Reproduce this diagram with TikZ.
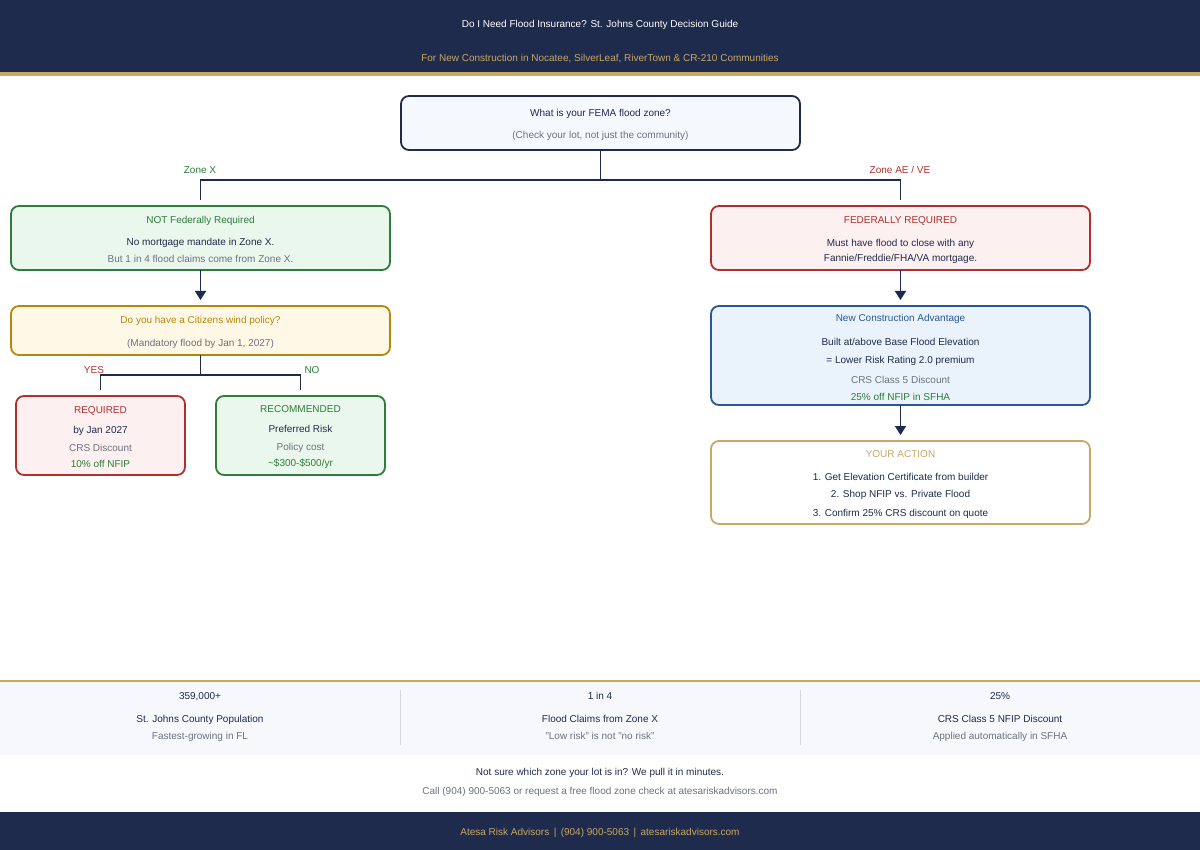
\documentclass[tikz,border=0pt]{standalone}
\usepackage{fontspec}
\setmainfont{Liberation Sans}
\usetikzlibrary{positioning, arrows.meta}
\definecolor{navy}{HTML}{1E2B4D}
\definecolor{gold}{HTML}{C8A862}
\definecolor{okgreen}{HTML}{2E7D3A}
\definecolor{okbg}{HTML}{EAF7EC}
\definecolor{alert}{HTML}{B0302F}
\definecolor{alertbg}{HTML}{FDF0F0}
\definecolor{amber}{HTML}{B8860B}
\definecolor{amberbg}{HTML}{FFF8E6}
\definecolor{mainblue}{HTML}{2B5797}
\definecolor{bluebg}{HTML}{EAF3FC}
\definecolor{mutedgray}{HTML}{6B7280}
\definecolor{qbg}{HTML}{F5F8FC}
\definecolor{statbg}{HTML}{F7F8FB}
\definecolor{divider}{HTML}{D3D7DE}
\newcommand\boxstrut{\rule{0pt}{11pt}}

\begin{document}
\begin{tikzpicture}[
  x=1pt, y=-1pt,
  every node/.style={font=\fontsize{10}{11}\selectfont, text=navy},
  box/.style={rectangle, rounded corners=8pt, line width=1.8pt, align=center, inner sep=0pt, outer sep=0pt},
  qbox/.style={box, draw=navy, fill=qbg},
  greenbox/.style={box, draw=okgreen, fill=okbg},
  redbox/.style={box, draw=alert, fill=alertbg},
  amberbox/.style={box, draw=amber, fill=amberbg},
  bluebox/.style={box, draw=mainblue, fill=bluebg},
  actionbox/.style={box, draw=gold, fill=white},
  wide/.style={minimum width=379pt},
  link/.style={line width=1.8pt, draw=navy, shorten >=6pt},
  arrow/.style={-{Triangle[width=11pt,length=9pt]}, line width=1.8pt, draw=navy, shorten >=6pt}
]
  \useasboundingbox (0,0) rectangle (1200,850);
  \fill[white] (0,0) rectangle (1200,850);

  % header
  \fill[navy] (0,0) rectangle (1200,72);
  \fill[gold] (0,72) rectangle (1200,76);
  \node[text=white] (title) at (600,25) {Do I Need Flood Insurance? St. Johns County Decision Guide};
  \node[text=gold] (subtitle) at (600,59) {For New Construction in Nocatee, SilverLeaf, RiverTown \& CR-210 Communities};

  % decision tree
  \node[qbox, minimum width=399pt, minimum height=54pt] (zone) at (600.5,123)
    {\boxstrut What is your FEMA flood zone?\\[11pt]{\color{mutedgray}(Check your lot, not just the community)}};

  \node[greenbox, wide, minimum height=64pt] (notreq) at (200.5,238)
    {\boxstrut{\color{okgreen}NOT Federally Required}\\[11pt]No mortgage mandate in Zone X.\\[6pt]{\color{mutedgray}But 1 in 4 flood claims come from Zone X.}};
  \node[amberbox, wide, minimum height=49pt, below=36pt of notreq] (citizens)
    {\boxstrut{\color{amber}Do you have a Citizens wind policy?}\\[12pt]{\color{mutedgray}(Mandatory flood by Jan 1, 2027)}};
  \node[redbox, minimum width=169pt, minimum height=79pt, below=41pt of citizens, xshift=-100pt] (required)
    {\boxstrut{\color{alert}REQUIRED}\\[9pt]by Jan 2027\\[7pt]{\color{mutedgray}CRS Discount}\\[5pt]{\color{okgreen}10\% off NFIP}};
  \node[greenbox, minimum width=169pt, minimum height=79pt, below=41pt of citizens, xshift=100pt] (recommended)
    {\boxstrut{\color{okgreen}RECOMMENDED}\\[9pt]Preferred Risk\\[7pt]{\color{mutedgray}Policy cost}\\[5pt]{\color{okgreen}\textasciitilde\$300-\$500/yr}};

  \node[redbox, wide, minimum height=64pt] (fedreq) at (900.5,238)
    {\boxstrut{\color{alert}FEDERALLY REQUIRED}\\[12pt]Must have flood to close with any\\[4pt]Fannie/Freddie/FHA/VA mortgage.};
  \node[bluebox, wide, minimum height=99pt, below=36pt of fedreq] (newbuild)
    {\boxstrut{\color{mainblue}New Construction Advantage}\\[13pt]Built at/above Base Flood Elevation\\[7pt]= Lower Risk Rating 2.0 premium\\[9pt]{\color{mutedgray}CRS Class 5 Discount}\\[6pt]{\color{okgreen}25\% off NFIP in SFHA}};
  \node[actionbox, wide, minimum height=83pt, below=36pt of newbuild] (action)
    {\boxstrut{\color{gold}YOUR ACTION}\\[12pt]1. Get Elevation Certificate from builder\\[6pt]2. Shop NFIP vs. Private Flood\\[8pt]3. Confirm 25\% CRS discount on quote};

  \draw[link] (zone.south) -- ++(0,30) -| (notreq.north);
  \draw[link] (zone.south) -- ++(0,30) -| (fedreq.north);
  \draw[link] (citizens.south) -- ++(0,20) -| (required.north);
  \draw[link] (citizens.south) -- ++(0,20) -| (recommended.north);
  \draw[arrow] (notreq) -- (citizens);
  \draw[arrow] (fedreq) -- (newbuild);
  \draw[arrow] (newbuild) -- (action);

  \node[text=okgreen] (zonex) at (200,170) {Zone X};
  \node[text=alert] (zoneae) at (900,170) {Zone AE / VE};
  \node[text=alert] (yes) at (94,370) {YES};
  \node[text=okgreen] (no) at (312,370) {NO};

  % stats band
  \fill[statbg] (0,682) rectangle (1200,755);
  \draw[gold, line width=2pt] (0,681) -- (1200,681);
  \foreach \x in {400,800}
    \draw[divider, line width=0.8pt] (\x,690) -- (\x,745);
  \foreach \x/\num/\what/\note [count=\i] in {200/{359,000+}/St. Johns County Population/Fastest-growing in FL,
      600/1 in 4/Flood Claims from Zone X/"Low risk" is not "no risk",
      1000/25\%/CRS Class 5 NFIP Discount/Applied automatically in SFHA}
    \node[align=center] (stat\i) at (\x,715.75) {\boxstrut\num\\[12pt]\what\\[6pt]{\color{mutedgray}\note\strut}};

  % call to action + footer
  \node[align=center] (cta) at (600,782)
    {Not sure which zone your lot is in? We pull it in minutes.\\[8pt]{\color{mutedgray}Call (904) 900-5063 or request a free flood zone check at atesariskadvisors.com}};
  \fill[navy] (0,812) rectangle (1200,850);
  \node[text=gold] (footer) at (600,833) {Atesa Risk Advisors \,|\, (904) 900-5063 \,|\, atesariskadvisors.com};
\end{tikzpicture}
\end{document}
